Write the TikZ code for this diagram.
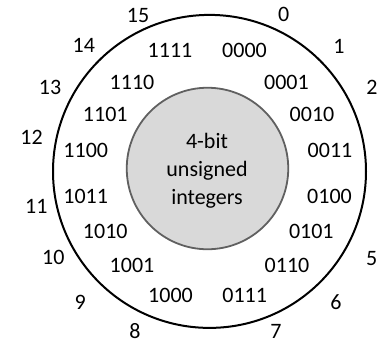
\documentclass[tikz,border=0pt]{standalone}
\usepackage{fontspec}
\setmainfont{Carlito}
\begin{document}
\begin{tikzpicture}[x=1pt,y=-1pt,
  lbl/.style={font=\fontsize{22}{28}\selectfont, inner sep=0pt, text=black},
  ring/.style={draw=black, line width=2pt, circle, minimum size=313pt, inner sep=0pt},
  core/.style={draw=coreedge, fill=corefill, line width=1.8pt, circle, minimum size=161.5pt, inner sep=0pt}
]
\definecolor{coreedge}{HTML}{606060}
\definecolor{corefill}{HTML}{D9D9D9}
\useasboundingbox (0,0) rectangle (381,343);

% outer ring and central disc
\node[ring] (wheel) at (209.5,171.4) {};
\node[core] (disc) at (207.5,168.5) {};
\node[lbl, align=center] (caption) at (207,170.5) {4-bit\\unsigned\\integers};

% bit patterns inside the ring
\node[lbl] (b0)  at (244.5,50.8)  {0000};
\node[lbl] (b1)  at (286.4,82.5)  {0001};
\node[lbl] (b2)  at (312,114)     {0010};
\node[lbl] (b3)  at (330,150.5)   {0011};
\node[lbl] (b4)  at (329.5,196.2) {0100};
\node[lbl] (b5)  at (311.3,231.7) {0101};
\node[lbl] (b6)  at (287,265)     {0110};
\node[lbl] (b7)  at (244.7,295.8) {0111};
\node[lbl] (b8)  at (170.5,295.8) {1000};
\node[lbl] (b9)  at (132,265)     {1001};
\node[lbl] (b10) at (105.3,231.7) {1010};
\node[lbl] (b11) at (85.7,196.2)  {1011};
\node[lbl] (b12) at (85.8,150.5)  {1100};
\node[lbl] (b13) at (105.3,114)   {1101};
\node[lbl] (b14) at (132,82.5)    {1110};
\node[lbl] (b15) at (170,50.8)    {1111};

% decimal values outside the ring
\node[lbl] (d0)  at (283.7,14.5)  {0};
\node[lbl] (d1)  at (339,46)      {1};
\node[lbl] (d2)  at (372,87.5)    {2};
\node[lbl] (d5)  at (371.7,259)   {5};
\node[lbl] (d6)  at (336,302.5)   {6};
\node[lbl] (d7)  at (276,331)     {7};
\node[lbl] (d8)  at (135,331)     {8};
\node[lbl] (d9)  at (80.3,302.5)  {9};
\node[lbl] (d10) at (53.3,257.5)  {10};
\node[lbl] (d11) at (36.3,206.3)  {11};
\node[lbl] (d12) at (31.5,137.5)  {12};
\node[lbl] (d13) at (50,87.5)     {13};
\node[lbl] (d14) at (83.8,45.8)   {14};
\node[lbl] (d15) at (138,15.5)    {15};
\end{tikzpicture}
\end{document}
